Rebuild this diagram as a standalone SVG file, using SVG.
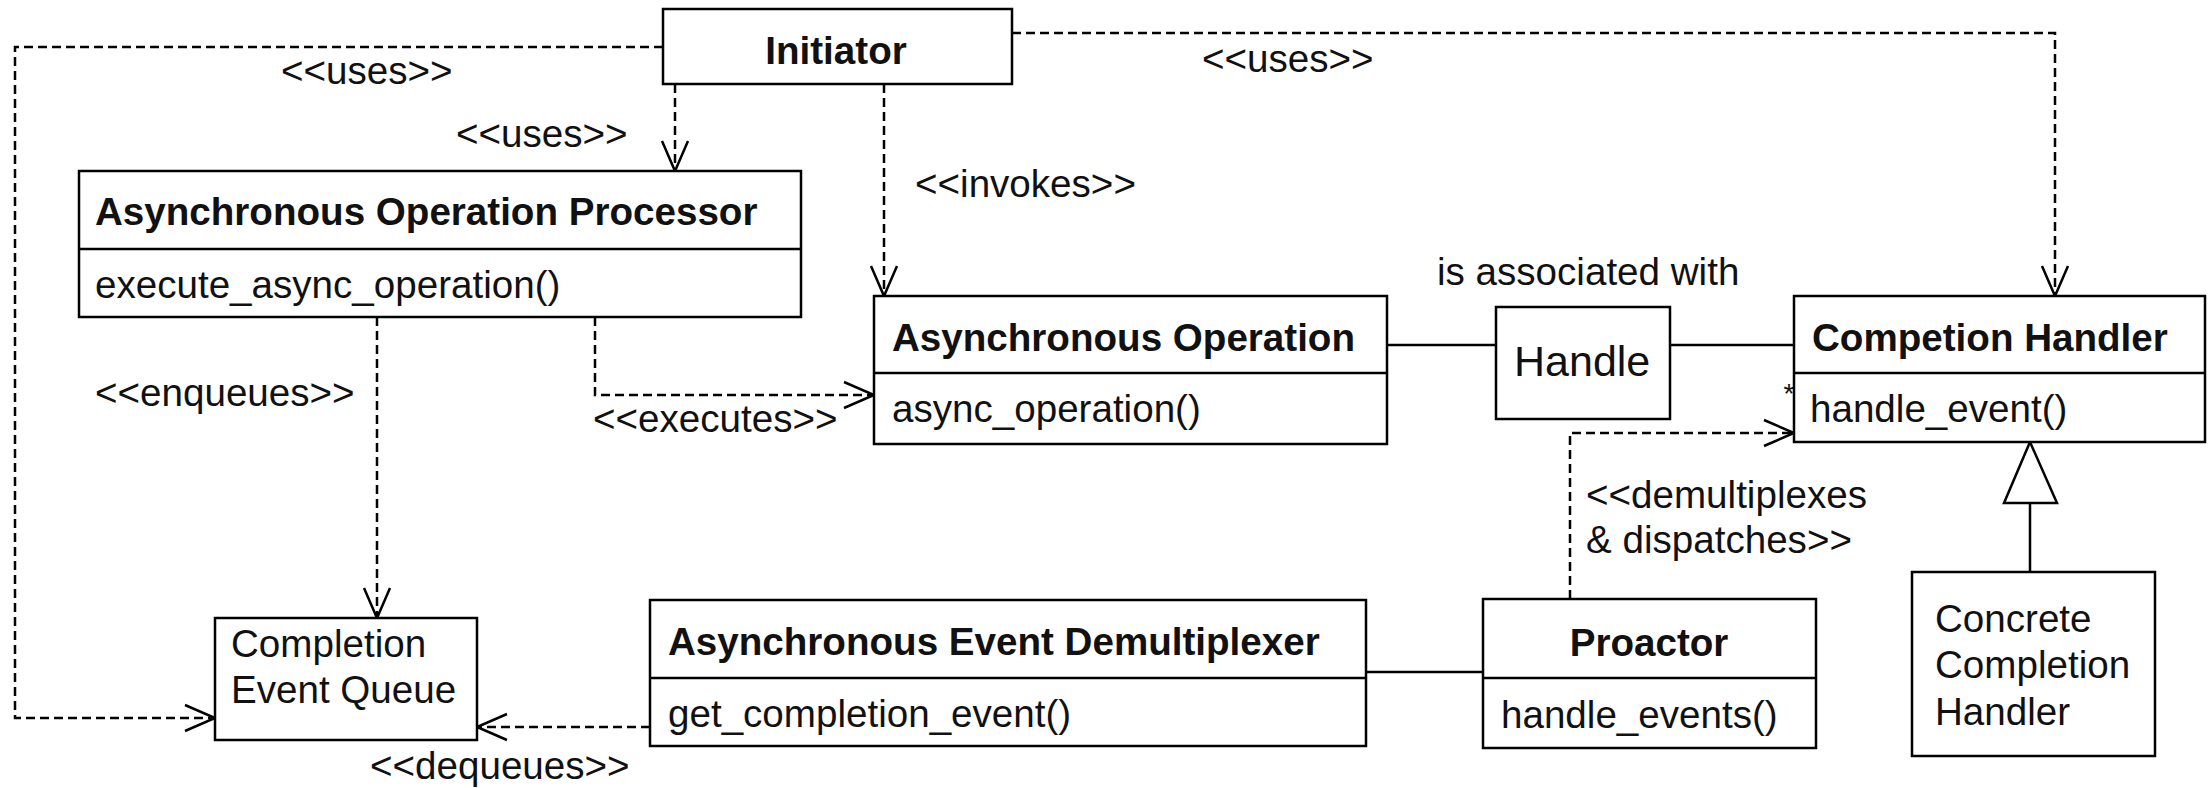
<svg xmlns="http://www.w3.org/2000/svg" width="2212" height="788" viewBox="0 0 2212 788">
  <style>
    .box { fill: #fff; stroke: #000; stroke-width: 2.5; }
    .sep { stroke: #000; stroke-width: 2.5; }
    text { font-family: "Liberation Sans", Arial, sans-serif; font-size: 38.6px; fill: #111; }
    .b { font-weight: bold; }
    .dep { fill: none; stroke: #000; stroke-width: 2.5; stroke-dasharray: 9 5; marker-end: url(#open); }
    .assoc { fill: none; stroke: #000; stroke-width: 2.5; }
  </style>
  <defs>
    <!-- open "V" arrowhead for dependency arrows -->
    <marker id="open" markerUnits="userSpaceOnUse" markerWidth="40" markerHeight="40" refX="0" refY="0" orient="auto" style="overflow:visible">
      <path d="M-30,-13 L0,0 L-30,13" fill="none" stroke="#000" stroke-width="2.5" stroke-dasharray="none"/>
    </marker>
  </defs>

  <rect width="2212" height="788" fill="#fff"/>

  <!-- connectors -->
  <g id="connectors">
    <path class="dep" d="M663,47 H15 V718 H215"/>
    <path class="dep" d="M675,84 V171"/>
    <path class="dep" d="M884,84 V296"/>
    <path class="dep" d="M1012,33 H2055 V296"/>
    <path class="dep" d="M377,317 V618"/>
    <path class="dep" d="M595,317 V395 H874"/>
    <path class="dep" d="M1570,599 V433 H1794"/>
    <path class="dep" d="M650,727 H477"/>
    <path class="assoc" d="M1387,345 H1496"/>
    <path class="assoc" d="M1670,345 H1794"/>
    <path class="assoc" d="M1366,672 H1483"/>
    <!-- generalization -->
    <path class="assoc" d="M2030,572 V503"/>
    <path d="M2030,442 L2057,503 L2004,503 Z" fill="#fff" stroke="#000" stroke-width="2.5"/>

    <text x="281" y="84">&lt;&lt;uses&gt;&gt;</text>
    <text x="456" y="147">&lt;&lt;uses&gt;&gt;</text>
    <text x="915" y="197">&lt;&lt;invokes&gt;&gt;</text>
    <text x="1202" y="72">&lt;&lt;uses&gt;&gt;</text>
    <text x="95" y="406">&lt;&lt;enqueues&gt;&gt;</text>
    <text x="593" y="432">&lt;&lt;executes&gt;&gt;</text>
    <text x="1437" y="285">is associated with</text>
    <text x="1586" y="508">&lt;&lt;demultiplexes</text>
    <text x="1586" y="553">&amp; dispatches&gt;&gt;</text>
    <text x="370" y="779">&lt;&lt;dequeues&gt;&gt;</text>
    <text x="1789" y="403" text-anchor="middle" style="font-size:28px">*</text>
  </g>

  <!-- nodes -->
  <g id="initiator">
    <rect class="box" x="663" y="9" width="349" height="75"/>
    <text class="b" x="836" y="64" text-anchor="middle">Initiator</text>
  </g>

  <g id="async-operation-processor">
    <rect class="box" x="79" y="171" width="722" height="146"/>
    <line class="sep" x1="79" y1="249" x2="801" y2="249"/>
    <text class="b" x="95" y="225">Asynchronous Operation Processor</text>
    <text x="95" y="298">execute_async_operation()</text>
  </g>

  <g id="async-operation">
    <rect class="box" x="874" y="296" width="513" height="148"/>
    <line class="sep" x1="874" y1="373" x2="1387" y2="373"/>
    <text class="b" x="892" y="351">Asynchronous Operation</text>
    <text x="892" y="422">async_operation()</text>
  </g>

  <g id="handle">
    <rect class="box" x="1496" y="307" width="174" height="112"/>
    <text x="1514" y="376" style="font-size:43px">Handle</text>
  </g>

  <g id="completion-handler">
    <rect class="box" x="1794" y="296" width="411" height="146"/>
    <line class="sep" x1="1794" y1="373" x2="2205" y2="373"/>
    <text class="b" x="1812" y="351">Competion Handler</text>
    <text x="1810" y="422">handle_event()</text>
  </g>

  <g id="completion-event-queue">
    <rect class="box" x="215" y="618" width="262" height="122"/>
    <text x="231" y="657">Completion</text>
    <text x="231" y="703">Event Queue</text>
  </g>

  <g id="async-event-demultiplexer">
    <rect class="box" x="650" y="600" width="716" height="146"/>
    <line class="sep" x1="650" y1="678" x2="1366" y2="678"/>
    <text class="b" x="668" y="655">Asynchronous Event Demultiplexer</text>
    <text x="668" y="727">get_completion_event()</text>
  </g>

  <g id="proactor">
    <rect class="box" x="1483" y="599" width="333" height="149"/>
    <line class="sep" x1="1483" y1="678" x2="1816" y2="678"/>
    <text class="b" x="1649" y="656" text-anchor="middle">Proactor</text>
    <text x="1501" y="728">handle_events()</text>
  </g>

  <g id="concrete-completion-handler">
    <rect class="box" x="1912" y="572" width="243" height="184"/>
    <text x="1935" y="632">Concrete</text>
    <text x="1935" y="678">Completion</text>
    <text x="1935" y="725">Handler</text>
  </g>
</svg>
